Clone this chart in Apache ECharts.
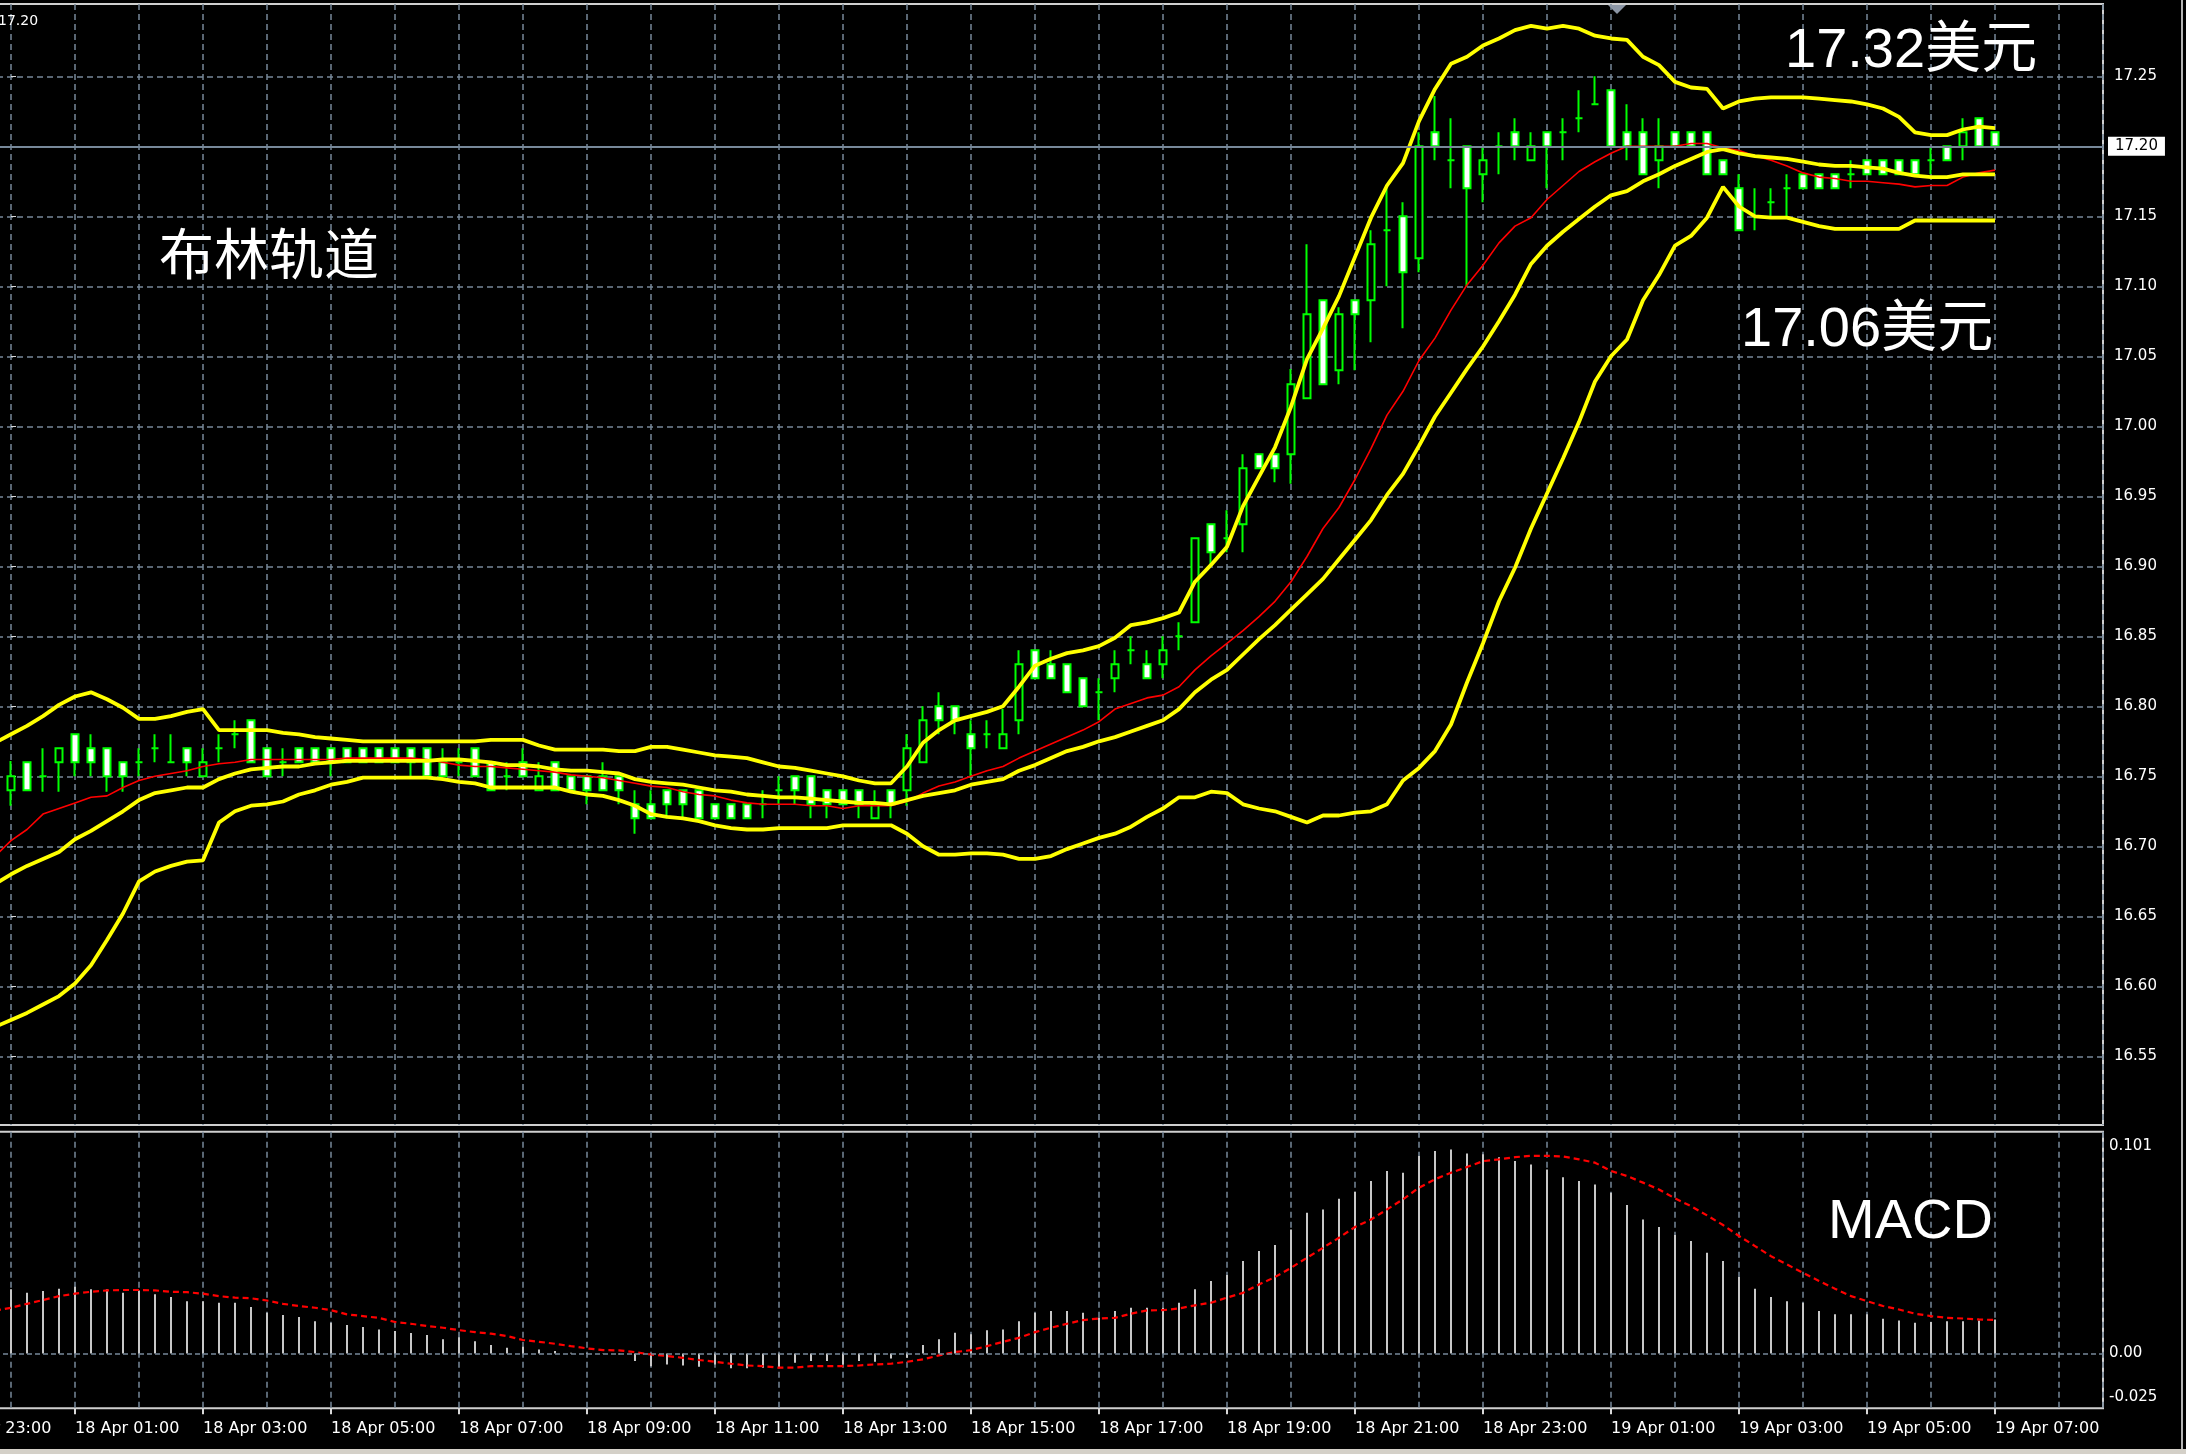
<!DOCTYPE html>
<html><head><meta charset="utf-8">
<script src="https://cdn.jsdelivr.net/npm/echarts@6/dist/echarts.min.js"></script>
<style>html,body{margin:0;padding:0;background:#000;overflow:hidden}#c{width:2186px;height:1454px}</style>
</head><body><div id="c"></div>
<script>
// ---------- DATA (15-minute candles, index 0 = 18 Apr 00:00) ----------
const firstIdx = -1;
const openP = [16.730,
16.740,16.760,16.750,16.760,16.780,16.770,16.770,16.760,16.760,16.770,
16.760,16.770,16.750,16.770,16.780,16.790,16.770,16.760,16.770,16.770,
16.770,16.770,16.770,16.770,16.770,16.770,16.770,16.760,16.760,16.770,
16.760,16.750,16.760,16.740,16.760,16.750,16.750,16.750,16.750,16.730,
16.730,16.740,16.740,16.740,16.730,16.730,16.730,16.730,16.740,16.750,
16.750,16.740,16.740,16.740,16.720,16.740,16.740,16.760,16.800,16.800,
16.780,16.780,16.770,16.790,16.840,16.830,16.830,16.820,16.810,16.820,
16.840,16.830,16.830,16.850,16.860,16.930,16.920,16.930,16.980,16.980,
16.980,17.020,17.090,17.040,17.090,17.090,17.140,17.150,17.120,17.210,
17.190,17.200,17.180,17.200,17.210,17.190,17.210,17.210,17.220,17.230,
17.240,17.210,17.210,17.190,17.210,17.210,17.210,17.190,17.170,17.150,
17.160,17.170,17.180,17.180,17.180,17.180,17.190,17.190,17.190,17.190,
17.190,17.200,17.200,17.220,17.210];
const closeP = [16.740,
16.750,16.740,16.750,16.770,16.760,16.760,16.750,16.750,16.760,16.770,
16.760,16.760,16.760,16.770,16.780,16.760,16.750,16.760,16.760,16.760,
16.760,16.760,16.760,16.760,16.760,16.760,16.750,16.750,16.760,16.750,
16.740,16.750,16.750,16.750,16.740,16.740,16.740,16.740,16.740,16.720,
16.720,16.730,16.730,16.720,16.720,16.720,16.720,16.730,16.740,16.740,
16.730,16.730,16.730,16.730,16.730,16.730,16.770,16.790,16.790,16.790,
16.770,16.780,16.780,16.830,16.820,16.820,16.810,16.800,16.810,16.830,
16.840,16.820,16.840,16.850,16.920,16.910,16.920,16.970,16.970,16.970,
17.030,17.080,17.030,17.080,17.080,17.130,17.140,17.110,17.200,17.200,
17.190,17.170,17.190,17.200,17.200,17.200,17.200,17.210,17.220,17.230,
17.200,17.200,17.180,17.200,17.200,17.200,17.180,17.180,17.140,17.150,
17.160,17.170,17.170,17.170,17.170,17.180,17.180,17.180,17.180,17.180,
17.190,17.190,17.210,17.200,17.200];
const lowP = [16.729,
16.729,16.740,16.739,16.739,16.750,16.750,16.739,16.739,16.750,16.760,
16.760,16.750,16.750,16.760,16.770,16.760,16.750,16.750,16.760,16.760,
16.750,16.760,16.760,16.760,16.760,16.750,16.750,16.750,16.750,16.750,
16.740,16.740,16.750,16.740,16.740,16.740,16.730,16.740,16.730,16.709,
16.720,16.720,16.720,16.720,16.720,16.720,16.720,16.720,16.730,16.730,
16.720,16.720,16.730,16.720,16.720,16.720,16.729,16.760,16.780,16.780,
16.750,16.770,16.770,16.780,16.820,16.820,16.810,16.800,16.790,16.810,
16.830,16.820,16.820,16.840,16.860,16.900,16.910,16.910,16.970,16.960,
16.959,17.020,17.030,17.030,17.040,17.060,17.100,17.070,17.110,17.190,
17.170,17.100,17.160,17.180,17.190,17.190,17.170,17.190,17.210,17.230,
17.200,17.190,17.180,17.170,17.200,17.200,17.180,17.180,17.140,17.140,
17.150,17.150,17.170,17.170,17.170,17.170,17.180,17.180,17.180,17.180,
17.180,17.190,17.190,17.200,17.200];
const highP = [16.741,
16.761,16.760,16.770,16.770,16.780,16.780,16.770,16.760,16.770,16.780,
16.780,16.770,16.770,16.780,16.790,16.790,16.770,16.770,16.770,16.770,
16.770,16.770,16.770,16.770,16.770,16.770,16.770,16.770,16.770,16.770,
16.760,16.760,16.770,16.760,16.760,16.750,16.750,16.760,16.750,16.740,
16.740,16.740,16.740,16.740,16.730,16.730,16.730,16.740,16.750,16.750,
16.750,16.740,16.740,16.740,16.740,16.740,16.780,16.800,16.810,16.800,
16.790,16.790,16.798,16.840,16.840,16.840,16.830,16.820,16.820,16.840,
16.850,16.840,16.850,16.860,16.920,16.930,16.940,16.980,16.980,16.980,
17.041,17.130,17.090,17.085,17.090,17.140,17.170,17.160,17.210,17.236,
17.220,17.200,17.200,17.210,17.220,17.210,17.210,17.220,17.240,17.250,
17.240,17.230,17.220,17.220,17.210,17.210,17.210,17.190,17.180,17.170,
17.170,17.180,17.180,17.180,17.180,17.190,17.190,17.190,17.190,17.190,
17.200,17.200,17.220,17.220,17.210];

const bbUpper = [16.774,16.780,16.786,16.793,16.801,16.807,16.810,16.805,16.799,16.791,
16.791,16.793,16.796,16.798,16.783,16.783,16.783,16.783,16.781,16.780,
16.778,16.777,16.776,16.775,16.775,16.775,16.775,16.775,16.775,16.775,
16.775,16.776,16.776,16.776,16.772,16.769,16.769,16.769,16.769,16.768,
16.768,16.771,16.771,16.769,16.767,16.765,16.764,16.763,16.760,16.757,
16.756,16.754,16.752,16.750,16.747,16.745,16.745,16.757,16.774,16.783,
16.790,16.793,16.796,16.800,16.814,16.829,16.834,16.838,16.840,16.843,
16.849,16.858,16.860,16.863,16.867,16.889,16.901,16.914,16.943,16.964,
16.985,17.014,17.048,17.070,17.093,17.121,17.149,17.172,17.188,17.218,
17.241,17.259,17.264,17.272,17.277,17.283,17.286,17.284,17.286,17.284,
17.279,17.277,17.276,17.264,17.258,17.246,17.242,17.241,17.227,17.232,
17.234,17.235,17.235,17.235,17.234,17.233,17.232,17.230,17.227,17.221,
17.210,17.208,17.208,17.212,17.214,17.213];
const bbMiddle = [16.673,16.680,16.686,16.691,16.696,16.705,16.711,16.718,16.725,16.733,
16.738,16.740,16.742,16.742,16.748,16.752,16.755,16.756,16.757,16.757,
16.759,16.760,16.761,16.761,16.761,16.761,16.761,16.761,16.762,16.762,
16.761,16.760,16.758,16.758,16.757,16.755,16.754,16.754,16.753,16.752,
16.748,16.746,16.745,16.744,16.742,16.740,16.739,16.737,16.736,16.735,
16.735,16.734,16.733,16.732,16.731,16.731,16.730,16.733,16.736,16.738,
16.740,16.744,16.746,16.748,16.754,16.758,16.763,16.768,16.771,16.775,
16.778,16.782,16.786,16.790,16.798,16.810,16.819,16.826,16.837,16.848,
16.858,16.869,16.880,16.891,16.905,16.919,16.933,16.951,16.966,16.986,
17.007,17.024,17.041,17.057,17.075,17.094,17.116,17.129,17.139,17.148,
17.157,17.165,17.168,17.175,17.180,17.186,17.191,17.196,17.198,17.195,
17.193,17.192,17.191,17.189,17.187,17.186,17.186,17.185,17.184,17.181,
17.179,17.178,17.178,17.180,17.180,17.180];
const bbLower = [16.571,16.576,16.581,16.587,16.593,16.602,16.615,16.633,16.652,16.675,
16.682,16.686,16.689,16.690,16.717,16.725,16.729,16.730,16.732,16.737,
16.740,16.744,16.746,16.749,16.749,16.749,16.749,16.749,16.748,16.746,
16.745,16.742,16.742,16.742,16.742,16.742,16.739,16.737,16.736,16.733,
16.729,16.723,16.721,16.720,16.718,16.715,16.713,16.712,16.712,16.713,
16.713,16.713,16.713,16.715,16.715,16.715,16.715,16.709,16.700,16.694,
16.694,16.695,16.695,16.694,16.691,16.691,16.693,16.698,16.702,16.706,
16.709,16.714,16.721,16.727,16.735,16.735,16.739,16.738,16.730,16.727,
16.725,16.721,16.717,16.722,16.722,16.724,16.725,16.730,16.747,16.756,
16.768,16.787,16.817,16.845,16.875,16.899,16.927,16.952,16.977,17.003,
17.032,17.050,17.062,17.090,17.108,17.129,17.136,17.149,17.171,17.157,
17.150,17.149,17.149,17.146,17.143,17.141,17.141,17.141,17.141,17.141,
17.147,17.147,17.147,17.147,17.147,17.147];
const maRed = [16.693,16.704,16.712,16.723,16.727,16.731,16.735,16.736,16.742,16.747,
16.750,16.752,16.754,16.757,16.759,16.760,16.762,16.762,16.762,16.762,
16.762,16.762,16.763,16.763,16.763,16.763,16.763,16.762,16.760,16.758,
16.757,16.757,16.756,16.755,16.754,16.753,16.751,16.750,16.749,16.747,
16.745,16.743,16.742,16.739,16.737,16.736,16.733,16.731,16.730,16.730,
16.730,16.729,16.729,16.727,16.729,16.729,16.729,16.732,16.738,16.743,
16.746,16.750,16.754,16.757,16.763,16.768,16.773,16.778,16.783,16.789,
16.798,16.802,16.806,16.808,16.814,16.826,16.836,16.845,16.854,16.864,
16.875,16.889,16.907,16.927,16.942,16.962,16.984,17.008,17.025,17.047,
17.063,17.083,17.101,17.115,17.131,17.143,17.149,17.162,17.172,17.182,
17.189,17.195,17.200,17.200,17.200,17.200,17.202,17.202,17.199,17.197,
17.193,17.190,17.186,17.181,17.178,17.177,17.175,17.175,17.174,17.173,
17.171,17.172,17.172,17.178,17.181,17.183];

// MACD histogram starts at index 0, signal at index -1
const macdHist = [0.0292,0.0276,0.0284,0.0295,0.0304,0.0292,0.0292,0.0276,0.0287,0.0269,
0.0257,0.0238,0.0238,0.0231,0.0231,0.0211,0.0185,0.0175,0.0166,0.0147,
0.0140,0.0129,0.0120,0.0109,0.0102,0.0093,0.0084,0.0064,0.0074,0.0056,
0.0038,0.0026,0.0030,0.0018,0.0011,0.0003,0.0002,-0.0002,-0.0005,-0.0035,
-0.0058,-0.0050,-0.0055,-0.0061,-0.0050,-0.0068,-0.0068,-0.0065,-0.0068,-0.0043,
-0.0035,-0.0035,-0.0050,-0.0035,-0.0038,-0.0023,-0.0020,0.0038,0.0064,0.0094,
0.0087,0.0105,0.0109,0.0147,0.0185,0.0193,0.0193,0.0185,0.0162,0.0193,
0.0208,0.0208,0.0208,0.0231,0.0292,0.0330,0.0357,0.0421,0.0466,0.0494,
0.0565,0.0641,0.0656,0.0705,0.0737,0.0785,0.0831,0.0823,0.0899,0.0922,
0.0929,0.0911,0.0907,0.0894,0.0876,0.0861,0.0838,0.0803,0.0785,0.0770,
0.0732,0.0676,0.0610,0.0576,0.0539,0.0512,0.0459,0.0421,0.0348,0.0295,
0.0257,0.0238,0.0231,0.0193,0.0178,0.0178,0.0178,0.0158,0.0150,0.0140,
0.0143,0.0147,0.0147,0.0150,0.0155];
const macdSignal = [0.0195,0.0208,0.0226,0.0243,0.0261,0.0272,0.0281,0.0287,0.0289,0.0289,
0.0287,0.0281,0.0279,0.0272,0.0261,0.0254,0.0251,0.0241,0.0226,0.0216,
0.0208,0.0197,0.0178,0.0170,0.0162,0.0143,0.0135,0.0125,0.0117,0.0106,
0.0097,0.0090,0.0079,0.0061,0.0053,0.0044,0.0033,0.0023,0.0015,0.0014,
0.0006,-0.0005,-0.0012,-0.0020,-0.0030,-0.0038,-0.0047,-0.0055,-0.0058,-0.0065,
-0.0065,-0.0058,-0.0058,-0.0058,-0.0055,-0.0050,-0.0047,-0.0038,-0.0027,-0.0009,
0.0006,0.0015,0.0033,0.0053,0.0071,0.0097,0.0117,0.0135,0.0152,0.0159,
0.0162,0.0181,0.0196,0.0197,0.0205,0.0219,0.0231,0.0254,0.0276,0.0314,
0.0348,0.0390,0.0436,0.0481,0.0527,0.0576,0.0610,0.0656,0.0702,0.0755,
0.0793,0.0823,0.0849,0.0876,0.0884,0.0894,0.0900,0.0900,0.0897,0.0884,
0.0869,0.0831,0.0808,0.0778,0.0747,0.0706,0.0671,0.0629,0.0585,0.0535,
0.0489,0.0443,0.0405,0.0367,0.0330,0.0295,0.0261,0.0238,0.0216,0.0200,
0.0181,0.0170,0.0162,0.0159,0.0155,0.0152];

const xTickIdx = [-4,4,12,20,28,36,44,52,60,68,76,84,92,100,108,116,124];
const xTickLabels = ['17 Apr 23:00','18 Apr 01:00','18 Apr 03:00','18 Apr 05:00','18 Apr 07:00',
'18 Apr 09:00','18 Apr 11:00','18 Apr 13:00','18 Apr 15:00','18 Apr 17:00','18 Apr 19:00',
'18 Apr 21:00','18 Apr 23:00','19 Apr 01:00','19 Apr 03:00','19 Apr 05:00','19 Apr 07:00'];
const priceTicks = [16.55,16.60,16.65,16.70,16.75,16.80,16.85,16.90,16.95,17.00,17.05,17.10,17.15,17.20,17.25];
const macdTicks = [-0.025, 0, 0.101];

// ---------- LAYOUT ----------
const X_MIN = -4, X_MAX = 130.75;
const GRID_L = -53, GRID_R = 83;
const MAIN_TOP = 4, MAIN_H = 1121;
const MACD_TOP = 1131.7, MACD_H = 276.6;
const P_MIN = 16.50093, P_MAX = 17.30164;
const M_MIN = -0.025, M_MAX = 0.101;
const GRID_COLOR = '#778899';
const BORDER = '#cfcfcf';
const LBL_FONT = 'DejaVu Sans';

const xi = i => firstIdx + i;
const candleData = openP.map((o, i) => [xi(i), o, closeP[i], lowP[i], highP[i]]);
const pts = arr => arr.map((v, i) => [xi(i), v]);
const histPts = macdHist.map((v, i) => [i, v]);
const lastClose = closeP[closeP.length - 1];

const chart = echarts.init(document.getElementById('c'), null, {renderer: 'canvas'});

const gridCommon = {left: GRID_L, right: GRID_R, show: true, borderColor: BORDER, borderWidth: 2,
  backgroundColor: 'transparent', containLabel: false, outerBoundsMode: 'none'};

const splitX = (gi) => ({
  type: 'value', gridIndex: gi, min: X_MIN, max: X_MAX, interval: 4, position: 'bottom',
  axisLine: {show: false, onZero: false}, axisTick: {show: false}, axisLabel: {show: false},
  splitLine: {show: true, lineStyle: {color: GRID_COLOR, type: [6, 4], width: 1.5}}
});

const opt = {
  animation: false,
  backgroundColor: '#000000',
  grid: [
    Object.assign({top: MAIN_TOP, height: MAIN_H}, gridCommon),
    Object.assign({top: MACD_TOP, height: MACD_H}, gridCommon)
  ],
  xAxis: [
    splitX(0),
    splitX(1),
    {
      type: 'value', gridIndex: 1, min: X_MIN, max: X_MAX, position: 'bottom',
      axisLine: {show: false, onZero: false},
      axisTick: {show: true, customValues: xTickIdx, length: 6, lineStyle: {color: '#d8d8d8', width: 2}},
      axisLabel: {show: true, customValues: xTickIdx, align: 'left', margin: 13,
        color: '#ffffff', fontFamily: LBL_FONT, fontSize: 16,
        formatter: v => xTickLabels[xTickIdx.indexOf(Math.round(v))] || ''},
      splitLine: {show: false}
    }
  ],
  yAxis: [
    {
      type: 'value', gridIndex: 0, position: 'right', min: P_MIN, max: P_MAX,
      axisLine: {show: false},
      axisTick: {show: true, customValues: priceTicks, length: 5, lineStyle: {color: '#d8d8d8', width: 1}},
      axisLabel: {customValues: priceTicks, margin: 11, color: '#ffffff', fontFamily: LBL_FONT, fontSize: 15,
        formatter: v => v.toFixed(2)},
      splitLine: {show: true, lineStyle: {color: GRID_COLOR, type: [6, 4], width: 1.5}}
    },
    {
      type: 'value', gridIndex: 1, position: 'right', min: M_MIN, max: M_MAX,
      axisLine: {show: false}, axisTick: {show: false, customValues: macdTicks},
      axisLabel: {customValues: macdTicks, margin: 6, color: '#ffffff', fontFamily: LBL_FONT, fontSize: 15,
        formatter: v => {
          if (Math.abs(v - 0.101) < 1e-6) return '{t|0.101}';
          if (Math.abs(v + 0.025) < 1e-6) return '{b|-0.025}';
          return '0.00';
        },
        rich: {
          t: {padding: [28, 0, 0, 0], color: '#ffffff', fontFamily: LBL_FONT, fontSize: 15},
          b: {padding: [0, 0, 22, 0], color: '#ffffff', fontFamily: LBL_FONT, fontSize: 15}
        }},
      splitLine: {show: false}
    }
  ],
  series: [
    {
      type: 'candlestick', name: 'XAG', xAxisIndex: 0, yAxisIndex: 0,
      data: candleData, encode: {x: 0, y: [1, 2, 3, 4]},
      barWidth: 8,
      itemStyle: {color: '#000000', color0: '#ffffff', borderColor: '#00ff00', borderColor0: '#00ff00', borderWidth: 2},
      emphasis: {disabled: true},
      markLine: {
        silent: true, symbol: 'none', animation: false,
        lineStyle: {color: GRID_COLOR, type: 'solid', width: 2},
        label: {show: true, position: 'end', distance: 5, formatter: p => Number(p.value).toFixed(2),
          color: '#000000', backgroundColor: '#ffffff', padding: [2, 7, 2, 7],
          fontFamily: LBL_FONT, fontSize: 15},
        data: [{yAxis: lastClose}]
      }
    },
    {type: 'line', xAxisIndex: 0, yAxisIndex: 0, data: pts(maRed), symbol: 'none', silent: true,
      lineStyle: {color: '#ff0000', width: 1.6}},
    {type: 'line', xAxisIndex: 0, yAxisIndex: 0, data: pts(bbUpper), symbol: 'none', silent: true,
      lineStyle: {color: '#ffff00', width: 3.8}},
    {type: 'line', xAxisIndex: 0, yAxisIndex: 0, data: pts(bbMiddle), symbol: 'none', silent: true,
      lineStyle: {color: '#ffff00', width: 3.8}},
    {type: 'line', xAxisIndex: 0, yAxisIndex: 0, data: pts(bbLower), symbol: 'none', silent: true,
      lineStyle: {color: '#ffff00', width: 3.8}},
    {type: 'bar', xAxisIndex: 1, yAxisIndex: 1, data: histPts, barWidth: 2, silent: true,
      itemStyle: {color: '#c8c8c8'},
      markLine: {silent: true, symbol: 'none', animation: false, label: {show: false},
        lineStyle: {color: GRID_COLOR, type: [5, 3], width: 1.5}, data: [{yAxis: 0}]}},
    {type: 'line', xAxisIndex: 1, yAxisIndex: 1, data: pts(macdSignal), symbol: 'none', silent: true,
      lineStyle: {color: '#ff0000', width: 2.2, type: [6, 4]}}
  ],
  graphic: [
    {type: 'text', z: 100, style: {text: '17.20', x: -2, y: 21.5, fill: '#ffffff',
      font: '14px "DejaVu Sans"', textVerticalAlign: 'middle', verticalAlign: 'middle'}},
    {type: 'text', z: 100, style: {text: '布林轨道', x: 159, y: 253, fill: '#ffffff',
      font: '55px "Noto Sans CJK SC"', textVerticalAlign: 'middle', verticalAlign: 'middle'}},
    {type: 'text', z: 100, style: {text: '17.32美元', x: 1785, y: 52, fill: '#ffffff',
      font: '56px "Liberation Sans", "Noto Sans CJK SC"', textVerticalAlign: 'middle', verticalAlign: 'middle'}},
    {type: 'text', z: 100, style: {text: '17.06美元', x: 1741, y: 331, fill: '#ffffff',
      font: '56px "Liberation Sans", "Noto Sans CJK SC"', textVerticalAlign: 'middle', verticalAlign: 'middle'}},
    {type: 'text', z: 100, style: {text: 'MACD', x: 1828, y: 1223, fill: '#ffffff',
      font: '56px "Liberation Sans"', textVerticalAlign: 'middle', verticalAlign: 'middle'}},
    {type: 'polygon', z: 100, shape: {points: [[1608, 5], [1626, 5], [1617, 14]]}, style: {fill: '#8c96a6'}},
    {type: 'rect', z: 100, shape: {x: 2181, y: 0, width: 2, height: 1449}, style: {fill: '#b4b4b4'}},
    {type: 'rect', z: 100, shape: {x: 0, y: 1449, width: 2186, height: 5}, style: {fill: '#d4d0c8'}}
  ]
};
chart.setOption(opt);
</script>
</body></html>
